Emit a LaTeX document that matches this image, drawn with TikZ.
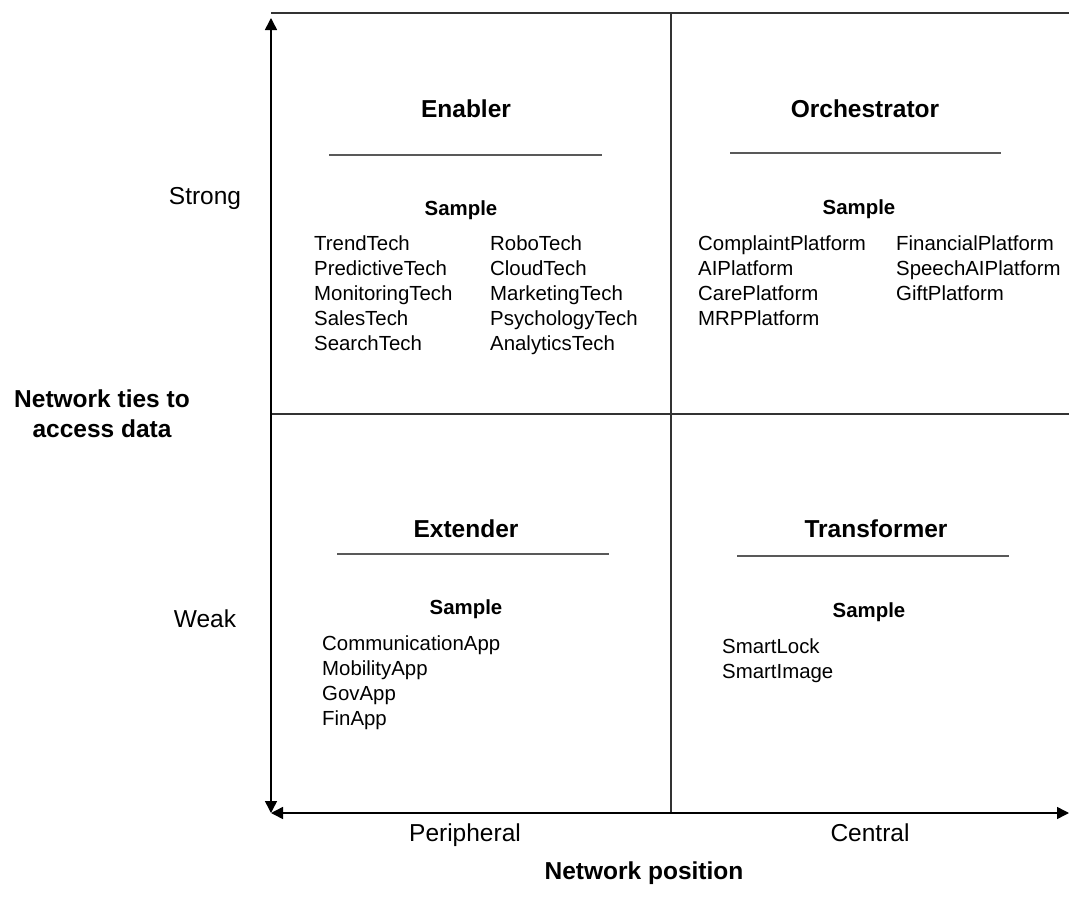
\documentclass[tikz,border=0pt]{standalone}
\usepackage{fontspec}
\setmainfont{Liberation Sans}
\usetikzlibrary{arrows.meta}
\begin{document}
\begin{tikzpicture}[x=1pt,y=-1pt,
  txt/.style={inner sep=0pt,font=\fontsize{20.4}{25}\selectfont},
  sample/.style={inner sep=0pt,font=\fontsize{20.4}{25}\selectfont\bfseries,anchor=base},
  title/.style={inner sep=0pt,font=\fontsize{24.5}{30}\selectfont\bfseries,anchor=base},
  axlab/.style={inner sep=0pt,font=\fontsize{24.5}{30}\selectfont,anchor=base},
  grid/.style={draw=black!80,line width=1.5pt},
  sep/.style={draw=black!65,line width=1.5pt},
  axis/.style={draw=black,line width=1.5pt,{Triangle[length=12pt,width=12pt]}-{Triangle[length=12pt,width=12pt]}},
  item/.style={txt,anchor=base west,align=left}]
\useasboundingbox (0,0) rectangle (1069,910);
% coordinates
\coordinate (tl) at (271,13);
\coordinate (tr) at (1069,13);
\coordinate (tm) at (671,13);
\coordinate (bm) at (671,813);
\coordinate (ml) at (271,414);
\coordinate (mr) at (1069,414);
\coordinate (ytop) at (271,18);
\coordinate (ybot) at (271,813);
\coordinate (xl) at (271,813);
\coordinate (xr) at (1069,813);
% grid
\draw[grid] (tl) -- (tr);
\draw[grid] (tm) -- (bm);
\draw[grid] (ml) -- (mr);
% axes
\draw[axis] (ytop) -- (ybot);
\draw[axis] (xl) -- (xr);
% Enabler
\node[title] (enT) at (466,117) {Enabler};
\coordinate (enL1) at (329,155); \coordinate (enL2) at (602,155);
\draw[sep] (enL1) -- (enL2);
\node[sample] (enS) at (461,215) {Sample};
\node[item] (enA) at (314,350) {TrendTech\\PredictiveTech\\MonitoringTech\\SalesTech\\SearchTech};
\node[item] (enB) at (490,350) {RoboTech\\CloudTech\\MarketingTech\\PsychologyTech\\AnalyticsTech};
% Orchestrator
\node[title] (orT) at (865,117) {Orchestrator};
\coordinate (orL1) at (730,153); \coordinate (orL2) at (1001,153);
\draw[sep] (orL1) -- (orL2);
\node[sample] (orS) at (859,214) {Sample};
\node[item] (orA) at (698,325) {ComplaintPlatform\\AIPlatform\\CarePlatform\\MRPPlatform};
\node[item] (orB) at (896,300) {FinancialPlatform\\SpeechAIPlatform\\GiftPlatform};
% Extender
\node[title] (exT) at (466,537) {Extender};
\coordinate (exL1) at (337,554); \coordinate (exL2) at (609,554);
\draw[sep] (exL1) -- (exL2);
\node[sample] (exS) at (466,614) {Sample};
\node[item] (exA) at (322,725) {CommunicationApp\\MobilityApp\\GovApp\\FinApp};
% Transformer
\node[title] (trT) at (876,537) {Transformer};
\coordinate (trL1) at (737,556); \coordinate (trL2) at (1009,556);
\draw[sep] (trL1) -- (trL2);
\node[sample] (trS) at (869,617) {Sample};
\node[item] (trA) at (722,678) {SmartLock\\SmartImage};
% axis labels
\node[axlab] (strong) at (205,204) {Strong};
\node[axlab] (weak) at (205,627) {Weak};
\node[title,align=center] (ylab) at (102,437) {Network ties to\\access data};
\node[axlab] (per) at (465,841) {Peripheral};
\node[axlab] (cen) at (870,841) {Central};
\node[title] (xlab) at (644,879) {Network position};
\end{tikzpicture}
\end{document}
